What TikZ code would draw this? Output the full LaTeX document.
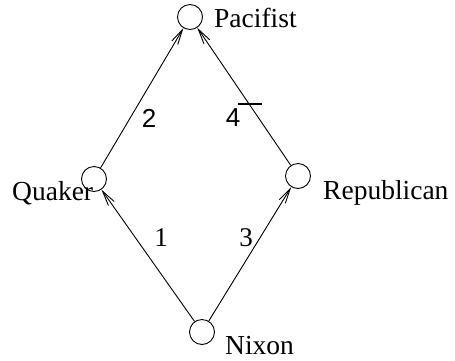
\documentclass[tikz,border=0pt]{standalone}
\usepackage{fontspec}
\setmainfont{Liberation Serif}
\newfontfamily\lsans{Liberation Sans}
\usetikzlibrary{arrows.meta}
\begin{document}
\begin{tikzpicture}[x=1pt,y=-1pt,
  vert/.style={circle,draw,line width=0.9pt,minimum size=25pt,inner sep=0pt},
  lbl/.style={inner sep=0pt,font=\fontsize{27.5}{31}\selectfont},
  num/.style={inner sep=0pt,font=\fontsize{27}{31}\selectfont},
  snum/.style={inner sep=0pt,font=\fontsize{26}{30}\selectfont\lsans},
  arr/.style={line width=0.9pt,-{Straight Barb[length=15pt,width=7pt,line width=0.9pt]}}]
\useasboundingbox (0,0) rectangle (455,360);
\node[vert] (p) at (190,17) {};
\node[vert] (q) at (94,179) {};
\node[vert] (r) at (298,176) {};
\node[vert] (n) at (202,332) {};
\node[lbl,anchor=base west] (pl) at (214,27) {Pacifist};
\node[lbl,anchor=base west] (ql) at (12,200) {Quaker};
\node[lbl,anchor=base west] (rl) at (323,199) {Republican};
\node[lbl,anchor=base west] (nl) at (225,354) {Nixon};
\draw[arr] (n) -- (q);
\draw[arr] (n) -- (r);
\draw[arr] (q) -- (p);
\draw[arr] (r) -- (p);
\coordinate (t1) at (238,104);
\coordinate (t2) at (262,104);
\draw[line width=1.3pt] (t1) -- (t2);
\node[snum] (l2) at (149,118) {2};
\node[snum] (l4) at (233,118) {4};
\node[num] (l1) at (161,238) {1};
\node[num] (l3) at (246,238) {3};
\end{tikzpicture}
\end{document}
